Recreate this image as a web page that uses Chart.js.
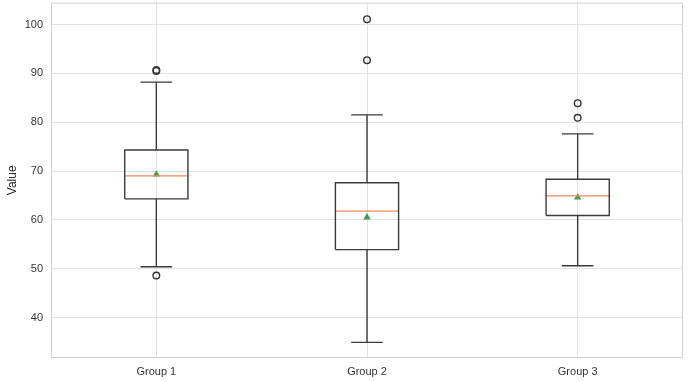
<!DOCTYPE html>
<html lang="en">
<head>
  <meta charset="UTF-8">
  <title>Box plot by group</title>
  <script src="https://cdn.jsdelivr.net/npm/chart.js"></script>
  <style>
    html, body { margin: 0; padding: 0; background: #fff; overflow: hidden; }
    #wrap { width: 689px; height: 382px; overflow: hidden; }
    /* plot top sits right under the window edge, as in the cropped original */
    #boxChart { display: block; margin-top: -12px; }
  </style>
</head>
<body>
<div id="wrap">
  <canvas id="boxChart" width="689" height="394"></canvas>
</div>

<script>
  // values
  const groups = ['Group 1', 'Group 2', 'Group 3'];
  const q1 = [64.3, 53.9, 60.9];
  const medians = [69.0, 61.8, 64.9];
  const q3 = [74.3, 67.6, 68.3];
  const whiskerLow = [50.4, 34.9, 50.6];
  const whiskerHigh = [88.2, 81.5, 77.6];
  const means = [69.3, 60.5, 64.6];
  const outliers = [[90.5, 90.7, 48.6], [101.1, 92.7], [83.9, 80.9]];
  const yTicks = [40, 50, 60, 70, 80, 90, 100];

  const boxHalf = 0.15;   // box width 0.3 in x units
  const capHalf = 0.075;

  // build line segments, separated by null gaps
  function segs(list) {
    const out = [];
    list.forEach(s => {
      s.forEach(p => out.push({ x: p[0], y: p[1] }));
      out.push({ x: s[0][0], y: null });
    });
    return out;
  }

  const boxLines = [], medLines = [], whiskLines = [], capLines = [];
  const outlierPts = [], meanPts = [];
  groups.forEach((g, i) => {
    const c = i + 1;
    boxLines.push([[c - boxHalf, q1[i]], [c + boxHalf, q1[i]], [c + boxHalf, q3[i]], [c - boxHalf, q3[i]], [c - boxHalf, q1[i]]]);
    medLines.push([[c - boxHalf, medians[i]], [c + boxHalf, medians[i]]]);
    whiskLines.push([[c, q3[i]], [c, whiskerHigh[i]]]);
    whiskLines.push([[c, q1[i]], [c, whiskerLow[i]]]);
    capLines.push([[c - capHalf, whiskerHigh[i]], [c + capHalf, whiskerHigh[i]]]);
    capLines.push([[c - capHalf, whiskerLow[i]], [c + capHalf, whiskerLow[i]]]);
    outliers[i].forEach(v => outlierPts.push({ x: c, y: v }));
    meanPts.push({ x: c, y: means[i] });
  });

  const lineSet = (data, color, width) => ({
    type: 'line', data: data, showLine: true, spanGaps: false,
    borderColor: color, borderWidth: width, pointRadius: 0, fill: false
  });

  // light frame round the plot area
  const framePlugin = {
    id: 'frame',
    afterDraw(chart) {
      const a = chart.chartArea, ctx = chart.ctx;
      ctx.save();
      ctx.strokeStyle = '#d0d0d0';
      ctx.lineWidth = 1;
      ctx.strokeRect(a.left + 0.5, a.top + 0.5, a.right - a.left - 1, a.bottom - a.top - 1);
      ctx.restore();
    }
  };

  const tickFont = { family: 'Liberation Sans, Arial, sans-serif', size: 11 };

  new Chart(document.getElementById('boxChart'), {
    type: 'scatter',
    data: {
      datasets: [
        lineSet(segs(whiskLines), '#3a3a3a', 1.4),
        lineSet(segs(capLines), '#3a3a3a', 1.4),
        lineSet(segs(boxLines), '#3a3a3a', 1.4),
        lineSet(segs(medLines), '#f08a5a', 1.3),
        {
          type: 'scatter', data: outlierPts, pointStyle: 'circle', pointRadius: 3.3,
          pointBorderWidth: 1.4, pointBorderColor: '#333', pointBackgroundColor: 'rgba(0,0,0,0)'
        },
        {
          type: 'scatter', data: meanPts, pointStyle: 'triangle', pointRadius: 4.3,
          pointBorderWidth: 0, pointBackgroundColor: '#3aa04a', pointBorderColor: '#3aa04a'
        }
      ]
    },
    options: {
      responsive: false,
      animation: false,
      layout: { padding: { top: 3, right: 6, left: 0, bottom: 0 } },
      plugins: { legend: { display: false }, tooltip: { enabled: false } },
      scales: {
        x: {
          type: 'linear', min: 0.5, max: 3.5,
          afterBuildTicks: s => { s.ticks = groups.map((g, i) => ({ value: i + 1 })); },
          afterFit: s => { s.height = 24; },
          ticks: { callback: v => groups[v - 1], color: '#333', font: tickFont, padding: 7 },
          grid: { color: '#e2e2e2', drawTicks: false },
          border: { display: false }
        },
        y: {
          type: 'linear', min: 31.7, max: 104.5,
          afterBuildTicks: s => { s.ticks = yTicks.map(v => ({ value: v })); },
          afterFit: s => { s.width = 51; },
          title: { display: true, text: 'Value', color: '#222', font: { family: 'Liberation Sans, Arial, sans-serif', size: 12 }, padding: { top: 5, bottom: 0 } },
          ticks: { color: '#333', font: tickFont, padding: 8 },
          grid: { color: '#e2e2e2', drawTicks: false },
          border: { display: false }
        }
      }
    },
    plugins: [framePlugin]
  });
</script>
</body>
</html>
